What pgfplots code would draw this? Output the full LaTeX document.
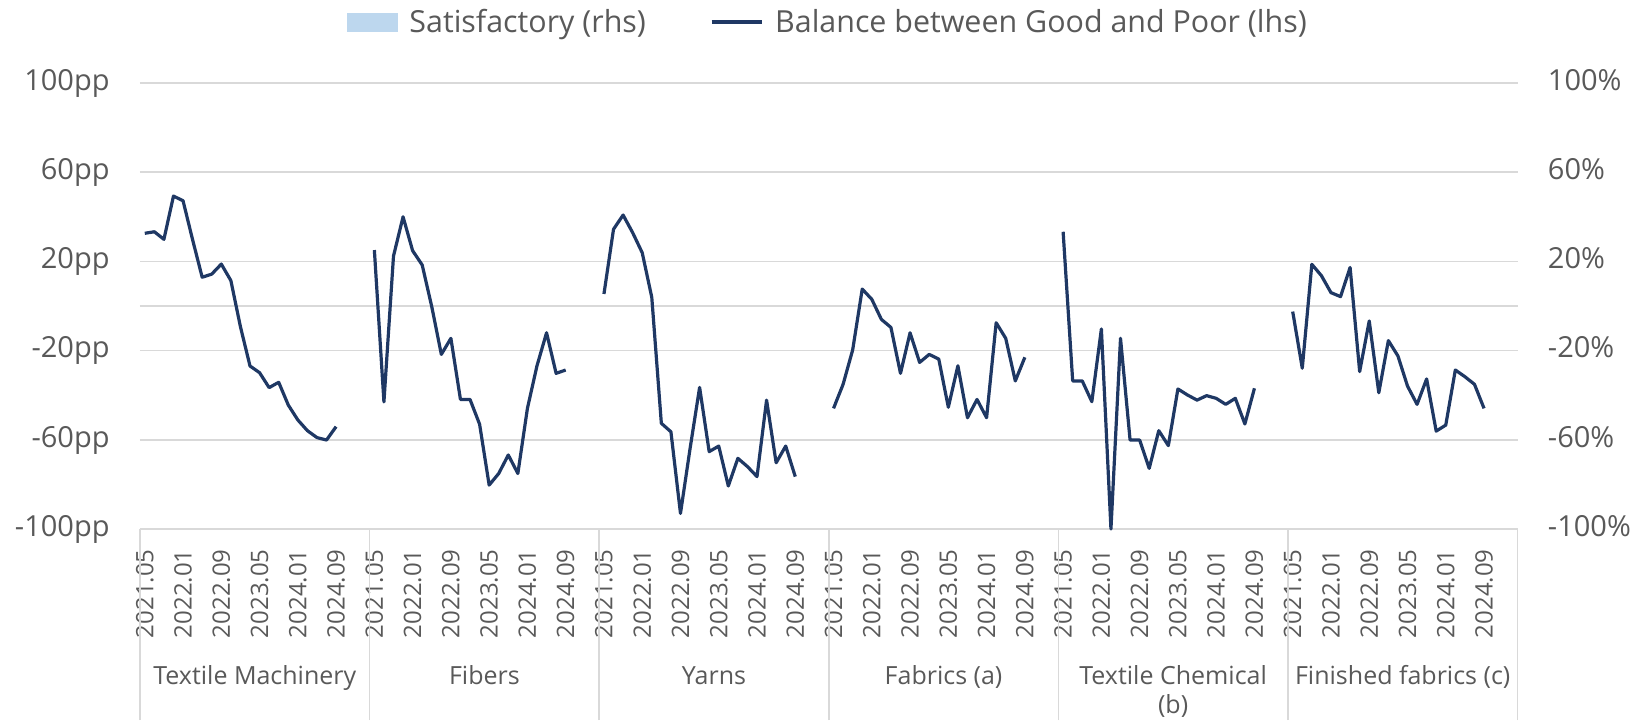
\documentclass[border=0pt]{standalone}
\usepackage{fontspec}
\setmainfont{Open Sans}
\usepackage{pgfplots}
\pgfplotsset{compat=1.18}
\definecolor{navy}{HTML}{1F3864}
\definecolor{gridgray}{HTML}{D9D9D9}
\definecolor{txt}{HTML}{595959}
\definecolor{lblue}{HTML}{BDD7EE}
\begin{document}
\begin{tikzpicture}
\begin{axis}[
  scale only axis, width=688.75pt, height=223pt,
  xmin=0, xmax=144, ymin=-100, ymax=100,
  axis line style={draw=none},
  clip=false,
  xtick pos=bottom, ytick pos=left,
  ytick={-100,-60,-20,20,60,100},
  yticklabels={-100pp,-60pp,-20pp,20pp,60pp,100pp},
  extra y ticks={0}, extra y tick labels={}, extra y tick style={grid=major},
  ymajorgrids, grid style={gridgray, line width=0.75pt},
  major tick length=0pt,
  tick style={gridgray, line width=0.75pt},
  yticklabel style={anchor=base east, inner sep=0pt, yshift=-0.36em, font=\fontsize{14.5}{17}\selectfont, text=txt},
  yticklabel shift=15pt,
  xtick={0.5,4.5,8.5,12.5,16.5,20.5,24.5,28.5,32.5,36.5,40.5,44.5,48.5,52.5,56.5,60.5,64.5,68.5,72.5,76.5,80.5,84.5,88.5,92.5,96.5,100.5,104.5,108.5,112.5,116.5,120.5,124.5,128.5,132.5,136.5,140.5},
  xticklabels={2021.05,2022.01,2022.09,2023.05,2024.01,2024.09,2021.05,2022.01,2022.09,2023.05,2024.01,2024.09,2021.05,2022.01,2022.09,2023.05,2024.01,2024.09,2021.05,2022.01,2022.09,2023.05,2024.01,2024.09,2021.05,2022.01,2022.09,2023.05,2024.01,2024.09,2021.05,2022.01,2022.09,2023.05,2024.01,2024.09},
  xticklabel style={rotate=90, anchor=east, inner sep=0pt, font=\fontsize{12}{14}\selectfont, text=txt},
  xticklabel shift=10pt,
  extra x ticks={0,24,48,72,96,120,144},
  extra x tick labels={},
  extra x tick style={major tick length=95.5pt, tick align=outside, grid=none},
  legend columns=2,
  legend style={at={(0.5,1)}, anchor=center, yshift=30.5pt, draw=none, fill=none,
    font=\fontsize{15.2}{18}\selectfont, text=txt,
    /tikz/every odd column/.append style={column sep=4pt},
    /tikz/every even column/.append style={column sep=30pt}},
]
\addlegendimage{legend image code/.code={\fill[lblue] (0pt,-4.5pt) rectangle (25pt,4.5pt);}}
\addlegendentry{Satisfactory (rhs)}
\addlegendimage{legend image code/.code={\draw[navy, line width=1.6pt] (0pt,0pt) -- (25pt,0pt);}}
\addlegendentry{Balance between Good and Poor (lhs)}

% Textile Machinery
\addplot[navy, line width=1.6pt, line join=round, forget plot] coordinates {
(0.5,32.6)(1.5,33.3)(2.5,29.9)(3.5,49.3)(4.5,47.2)(5.5,29.7)(6.5,12.9)(7.5,14.3)(8.5,18.8)(9.5,11.4)(10.5,-9.3)(11.5,-26.9)(12.5,-29.9)(13.5,-36.6)(14.5,-34.2)(15.5,-44.4)(16.5,-51.1)(17.5,-55.9)(18.5,-59.0)(19.5,-60.1)(20.5,-54.1)};
% Fibers
\addplot[navy, line width=1.6pt, line join=round, forget plot] coordinates {
(24.5,25.1)(25.5,-43.0)(26.5,22.4)(27.5,40.0)(28.5,24.8)(29.5,18.4)(30.5,-0.3)(31.5,-21.7)(32.5,-14.5)(33.5,-41.9)(34.5,-41.9)(35.5,-53.0)(36.5,-80.3)(37.5,-75.1)(38.5,-66.8)(39.5,-75.1)(40.5,-45.9)(41.5,-26.8)(42.5,-12.0)(43.5,-30.2)(44.5,-28.7)};
% Yarns
\addplot[navy, line width=1.6pt, line join=round, forget plot] coordinates {
(48.5,5.4)(49.5,34.4)(50.5,40.8)(51.5,32.9)(52.5,23.9)(53.5,3.9)(54.5,-52.6)(55.5,-56.4)(56.5,-93.0)(57.5,-64.0)(58.5,-36.5)(59.5,-65.3)(60.5,-62.8)(61.5,-80.7)(62.5,-68.3)(63.5,-72.0)(64.5,-76.5)(65.5,-42.2)(66.5,-70.3)(67.5,-62.8)(68.5,-76.5)};
% Fabrics (a)
\addplot[navy, line width=1.6pt, line join=round, forget plot] coordinates {
(72.5,-45.9)(73.5,-35.1)(74.5,-19.7)(75.5,7.6)(76.5,3.0)(77.5,-6.0)(78.5,-9.6)(79.5,-30.2)(80.5,-12.0)(81.5,-25.3)(82.5,-21.7)(83.5,-23.8)(84.5,-45.4)(85.5,-26.8)(86.5,-50.1)(87.5,-41.9)(88.5,-50.1)(89.5,-7.5)(90.5,-14.5)(91.5,-33.6)(92.5,-23.0)};
% Textile Chemical (b)
\addplot[navy, line width=1.6pt, line join=round, forget plot] coordinates {
(96.5,33.3)(97.5,-33.6)(98.5,-33.6)(99.5,-42.9)(100.5,-10.3)(101.5,-100.0)(102.5,-14.5)(103.5,-60.1)(104.5,-60.1)(105.5,-72.8)(106.5,-55.9)(107.5,-62.6)(108.5,-37.2)(109.5,-39.9)(110.5,-42.2)(111.5,-40.2)(112.5,-41.4)(113.5,-44.1)(114.5,-41.4)(115.5,-52.9)(116.5,-36.9)};
% Finished fabrics (c)
\addplot[navy, line width=1.6pt, line join=round, forget plot] coordinates {
(120.5,-2.5)(121.5,-27.9)(122.5,18.7)(123.5,13.6)(124.5,6.0)(125.5,4.2)(126.5,17.3)(127.5,-29.4)(128.5,-6.7)(129.5,-38.9)(130.5,-15.5)(131.5,-22.4)(132.5,-35.9)(133.5,-44.1)(134.5,-32.7)(135.5,-56.1)(136.5,-53.4)(137.5,-28.7)(138.5,-31.7)(139.5,-35.1)(140.5,-45.9)};

\begin{scope}[every node/.style={anchor=base, inner sep=0pt, font=\fontsize{12.5}{15}\selectfont, text=txt}]
\node[yshift=-77.5pt] at (axis cs:12,-100) {Textile Machinery};
\node[yshift=-77.5pt] at (axis cs:36,-100) {Fibers};
\node[yshift=-77.5pt] at (axis cs:60,-100) {Yarns};
\node[yshift=-77.5pt] at (axis cs:84,-100) {Fabrics (a)};
\node[yshift=-77.5pt] at (axis cs:108,-100) {Textile Chemical};
\node[yshift=-92pt] at (axis cs:108,-100) {(b)};
\node[yshift=-77.5pt] at (axis cs:132,-100) {Finished fabrics (c)};
\end{scope}
\end{axis}
\begin{axis}[
  scale only axis, width=688.75pt, height=223pt,
  xmin=0, xmax=144, ymin=-100, ymax=100,
  hide x axis, axis y line*=right,
  y axis line style={draw=none},
  ytick={-100,-60,-20,20,60,100},
  yticklabels={-100\%,-60\%,-20\%,20\%,60\%,100\%},
  major tick length=0pt,
  tick style={draw=none},
  yticklabel style={anchor=base west, inner sep=0pt, yshift=-0.36em, font=\fontsize{14.5}{17}\selectfont, text=txt},
  yticklabel shift=15pt,
]
\end{axis}
\pgfresetboundingbox
\path (-70pt,-95.5pt) rectangle (754.5pt,264.5pt);
\end{tikzpicture}
\end{document}
